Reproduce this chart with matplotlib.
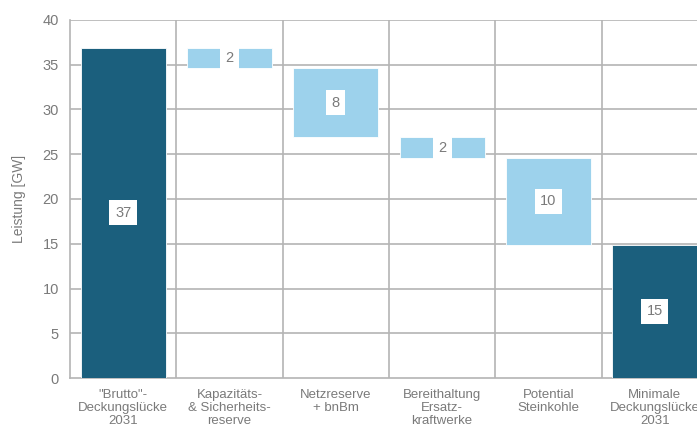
import matplotlib
matplotlib.use('Agg')
import matplotlib.pyplot as plt

plt.rcParams['font.family'] = ['Liberation Sans', 'DejaVu Sans']

categories = ['"Brutto"-\nDeckungslücke\n2031', 'Kapazitäts-\n& Sicherheits-\nreserve',
              'Netzreserve\n+ bnBm', 'Bereithaltung\nErsatz-\nkraftwerke',
              'Potential\nSteinkohle', 'Minimale\nDeckungslücke\n2031']
start_total = 36.9
steps = [2.3, 7.7, 2.3, 9.7]
labels = ['37', '2', '8', '2', '10', '15']

dark = '#1B5F7D'
light = '#9DD2EC'
grid_col = '#B4B4B4'
text_col = '#7A7A7A'

# Balken aufbauen
bottoms = [0]
heights = [start_total]
level = start_total
for s in steps:
    level -= s
    bottoms.append(level)
    heights.append(s)
bottoms.append(0)
heights.append(level)
colors = [dark] + [light] * len(steps) + [dark]

fig = plt.figure(figsize=(6.97, 4.25), dpi=100)
ax = fig.add_axes([70 / 697, 47 / 425, 638 / 697, 358 / 425])

x = list(range(len(categories)))
ax.bar(x, heights, bottom=bottoms, width=0.8, color=colors, edgecolor='white', linewidth=0.6, zorder=3)

for xi, b, h, lab in zip(x, bottoms, heights, labels):
    ax.text(xi, b + h / 2, lab, ha='center', va='center', fontsize=10.5, color=text_col, zorder=4,
            bbox=dict(facecolor='white', edgecolor='none', pad=4))

ax.set_xlim(-0.5, len(categories) - 0.5)
ax.set_ylim(0, 40)
ax.set_yticks(range(0, 41, 5))
ax.set_xticks(x)
ax.set_xticklabels(categories, fontsize=9.5, color=text_col, linespacing=1.1)
ax.tick_params(axis='y', length=0, labelsize=10.5, labelcolor=text_col, pad=8)
ax.tick_params(axis='x', length=0, pad=8)

# Gitter: horizontale Linien + Trennlinien zwischen Kategorien
for yv in range(5, 41, 5):
    ax.axhline(yv, color=grid_col, linewidth=1.2, zorder=1)
for xv in [i + 0.5 for i in x[:-1]]:
    ax.axvline(xv, color=grid_col, linewidth=1.2, zorder=1)

for side in ['top', 'right']:
    ax.spines[side].set_visible(False)
for side in ['left', 'bottom']:
    ax.spines[side].set_color(grid_col)
    ax.spines[side].set_linewidth(1.2)

ax.set_ylabel('Leistung [GW]', fontsize=10, color=text_col, labelpad=12)

fig.savefig('out.png', dpi=100)
